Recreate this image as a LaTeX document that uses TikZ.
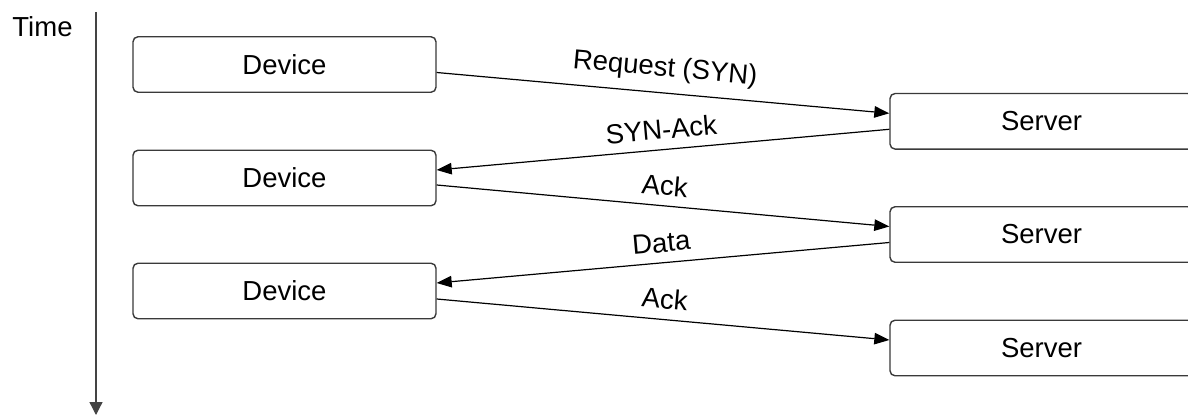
\documentclass[tikz,border=0pt]{standalone}
\usepackage{fontspec}
\setmainfont{Liberation Sans}
\usetikzlibrary{arrows.meta}
\definecolor{boxline}{HTML}{3A3A3A}
\definecolor{axisline}{HTML}{444444}
\newcommand\dgfont{\fontsize{27.5}{33}\selectfont}
\begin{document}
\begin{tikzpicture}[x=1pt,y=-1pt,
  box/.style={draw=boxline, line width=1.4pt, rounded corners=5pt, fill=white,
    minimum width=303pt, minimum height=55.5pt, inner sep=0pt, font=\dgfont},
  msg/.style={line width=1.2pt, black, >={Triangle[length=15pt,width=11.5pt]}},
  lbl/.style={font=\dgfont, sloped, midway, inner sep=0pt, text depth=0pt, above=#1},
  lbl/.default=10pt,
  axis/.style={draw=axisline, line width=1.3pt, -{Triangle[length=13pt,width=13pt]}}
]
\useasboundingbox (0,0) rectangle (1188,417);
\clip (0,0) rectangle (1188,417);
\fill[white] (0,0) rectangle (1188,417);

% time axis
\node[font=\dgfont, inner sep=0pt] (time) at (42.5,27) {Time};
\coordinate (tTop) at (96,12);
\coordinate (tEnd) at (96,415);
\draw[axis] (tTop) -- (tEnd);

% devices (left) and servers (right)
\node[box] (d1) at (284.5,64.5) {Device};
\node[box] (d2) at (284.5,178)  {Device};
\node[box] (d3) at (284.5,291)  {Device};
\node[box] (s1) at (1041.5,121.3) {Server};
\node[box] (s2) at (1041.5,234.5) {Server};
\node[box] (s3) at (1041.5,348)   {Server};

% message exchange
\draw[msg, ->] ([yshift=-8pt]d1.east) -- ([yshift=8pt]s1.west)
  node[lbl=16pt] {Request (SYN)};
\draw[msg, <-] ([yshift=8pt]d2.east) -- ([yshift=-8pt]s1.west)
  node[lbl] {SYN-Ack};
\draw[msg, ->] ([yshift=-7pt]d2.east) -- ([yshift=8pt]s2.west)
  node[lbl] {Ack};
\draw[msg, <-] ([yshift=8pt]d3.east) -- ([yshift=-8pt]s2.west)
  node[lbl] {Data};
\draw[msg, ->] ([yshift=-8pt]d3.east) -- ([yshift=8pt]s3.west)
  node[lbl] {Ack};
\end{tikzpicture}
\end{document}
